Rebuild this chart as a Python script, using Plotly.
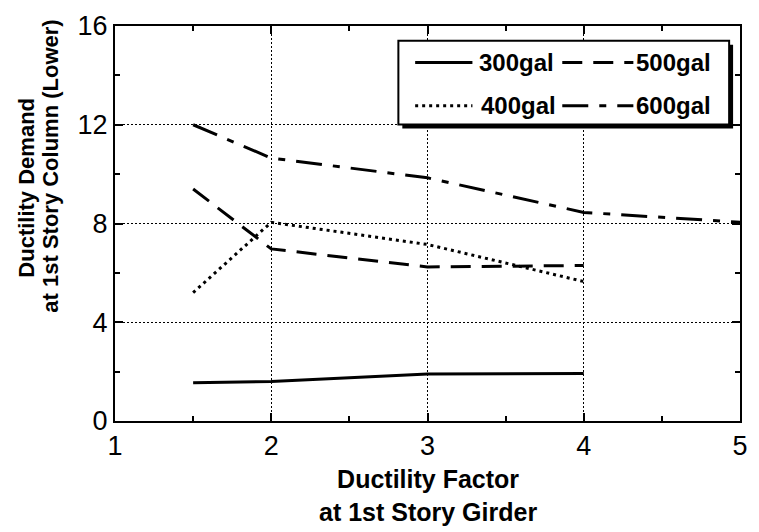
import plotly.graph_objects as go

x_vals = [1.5, 2, 3, 4, 5]
g300 = [1.55, 1.6, 1.9, 1.92]
g400 = [5.2, 8.05, 7.15, 5.65]
g500 = [9.4, 6.97, 6.24, 6.3]
g600 = [12.0, 10.65, 9.85, 8.45, 8.05]

series_names = ["300gal", "500gal", "400gal", "600gal"]
series_data = [g300, g500, g400, g600]
series_dash = ["solid", "20px,11px", "3px,4px", "26px,11px,7px,11px"]

x_ticks = [1, 2, 3, 4, 5]
y_ticks = [0, 4, 8, 12, 16]

W, H = 759, 532
L, R, T, B = 115, 11, 20, 111
PW, PH = W - L - R, H - T - B


def px(xpix):
    return (xpix - L) / PW


def py(ypix):
    return (H - B - ypix) / PH


FONT = "Liberation Sans, Arial, Helvetica"

fig = go.Figure()
for name, data, dash in zip(series_names, series_data, series_dash):
    fig.add_trace(go.Scatter(x=x_vals[:len(data)], y=data, mode="lines", name=name,
                             line=dict(color="black", width=3, dash=dash), showlegend=False))

axis_common = dict(
    showline=True, linecolor="black", linewidth=2, mirror="ticks",
    ticks="inside", ticklen=8, tickwidth=1.5, tickcolor="black",
    showgrid=True, gridcolor="black", gridwidth=1, griddash="2px,2px",
    zeroline=False,
    tickfont=dict(family=FONT, size=27, color="black"),
)

fig.update_xaxes(range=[1, 5], tickvals=x_ticks, ticktext=[str(v) for v in x_ticks],
                 minor=dict(dtick=0.5, ticks="inside", ticklen=5, tickcolor="black", showgrid=False),
                 **axis_common)
fig.update_yaxes(range=[0, 16], tickvals=y_ticks, ticktext=[str(v) for v in y_ticks],
                 minor=dict(dtick=2, ticks="inside", ticklen=5, tickcolor="black", showgrid=False),
                 **axis_common)

# axis titles (as annotations for placement control)
fig.add_annotation(text="<b>Ductility Factor<br>at 1st Story Girder</b>", x=px(432), y=py(497),
                   xref="paper", yref="paper", showarrow=False, xanchor="center", yanchor="middle",
                   font=dict(family=FONT, size=25, color="black"))
fig.add_annotation(text="<b>Ductility Demand</b>", x=px(25), y=py(184),
                   xref="paper", yref="paper", showarrow=False, textangle=-90,
                   xanchor="center", yanchor="middle",
                   font=dict(family=FONT, size=22, color="black"))
fig.add_annotation(text="<b>at 1st Story Column (Lower)</b>", x=px(50), y=py(162),
                   xref="paper", yref="paper", showarrow=False, textangle=-90,
                   xanchor="center", yanchor="middle",
                   font=dict(family=FONT, size=22, color="black"))

# legend box with shadow
fig.add_shape(type="rect", xref="paper", yref="paper", x0=px(406), x1=px(741), y0=py(124), y1=py(39),
              fillcolor="black", line=dict(width=0), layer="above")
fig.add_shape(type="rect", xref="paper", yref="paper", x0=px(402), x1=px(737), y0=py(120), y1=py(35),
              fillcolor="white", line=dict(color="black", width=2), layer="above")

legend_pos = [
    (419, 477, 482, 57),
    (568, 640, 641, 57),
    (419, 477, 484, 101),
    (568, 640, 641, 101),
]
for name, dash, (lx0, lx1, tx, ly) in zip(series_names, series_dash, legend_pos):
    fig.add_shape(type="line", xref="paper", yref="paper", x0=px(lx0), x1=px(lx1), y0=py(ly), y1=py(ly),
                  line=dict(color="black", width=3, dash=dash), layer="above")
    fig.add_annotation(text="<b>" + name + "</b>", x=px(tx), y=py(ly), xref="paper", yref="paper",
                       showarrow=False, xanchor="left", yanchor="middle",
                       font=dict(family=FONT, size=24, color="black"))

fig.update_layout(
    width=W, height=H,
    margin=dict(l=L, r=R, t=T, b=B),
    plot_bgcolor="white", paper_bgcolor="white",
    showlegend=False,
)

fig.write_html("out.html")
